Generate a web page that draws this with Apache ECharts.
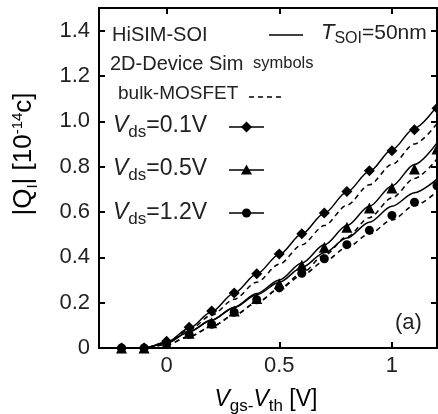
<!DOCTYPE html>
<html>
<head>
<meta charset="utf-8">
<script src="https://cdn.jsdelivr.net/npm/echarts@6/dist/echarts.min.js"></script>
<style>
  html, body { margin: 0; padding: 0; background: #fff; }
  #chart { width: 438px; height: 414px; }
</style>
</head>
<body>
<div id="chart"></div>
<script>
// Vgs - Vth sample points [V]
const vgs = [-0.2, -0.1, 0, 0.1, 0.2, 0.3, 0.4, 0.5, 0.6, 0.7, 0.8, 0.9, 1.0, 1.1, 1.2]

// 2D device simulation (symbols), |Q| in 1e-14 C
const sim01 = [0, 0, 0.03, 0.092, 0.163, 0.243, 0.328, 0.415, 0.504, 0.596, 0.69, 0.782, 0.87, 0.963, 1.058]
const sim05 = [0, 0, 0.02, 0.065, 0.111, 0.163, 0.218, 0.283, 0.365, 0.445, 0.533, 0.618, 0.706, 0.79, 0.878]
const sim12 = [0, 0, 0.02, 0.06, 0.105, 0.158, 0.213, 0.265, 0.33, 0.394, 0.456, 0.519, 0.585, 0.643, 0.716]

// HiSIM-SOI (solid)
const hisim01 = [0, 0, 0.025, 0.087, 0.16, 0.243, 0.327, 0.413, 0.503, 0.595, 0.688, 0.78, 0.875, 0.97, 1.068]
const hisim05 = [0, 0, 0.022, 0.072, 0.123, 0.18, 0.24, 0.3, 0.375, 0.455, 0.54, 0.625, 0.715, 0.81, 0.905]
const hisim12 = [0, 0, 0.022, 0.072, 0.123, 0.178, 0.235, 0.29, 0.355, 0.42, 0.485, 0.555, 0.625, 0.685, 0.745]

// bulk-MOSFET (dashed)
const bulk01 = [0, 0, 0.025, 0.08, 0.145, 0.215, 0.29, 0.37, 0.455, 0.54, 0.63, 0.72, 0.81, 0.9, 0.99]
const bulk05 = [0, 0, 0.015, 0.05, 0.095, 0.145, 0.2, 0.262, 0.33, 0.41, 0.49, 0.575, 0.662, 0.748, 0.834]
const bulk12 = [0, 0, 0.015, 0.05, 0.095, 0.145, 0.2, 0.26, 0.32, 0.382, 0.443, 0.504, 0.565, 0.628, 0.69]

const xTicks = [0, 0.5, 1]
const yTicks = [0, 0.2, 0.4, 0.6, 0.8, 1.0, 1.2, 1.4]

const FONT = '"Liberation Sans", Arial, sans-serif'
const INK = '#222'

const pairs = (ys) => vgs.map((x, i) => [x, ys[i]])

const curve = (ys, dashed) => ({
  type: 'line',
  data: pairs(ys),
  smooth: 0.3,
  smoothMonotone: 'x',
  showSymbol: false,
  silent: true,
  lineStyle: { color: '#000', width: 1.5, type: dashed ? [5, 4] : 'solid' }
})

const marks = (ys, symbol, size) => ({
  type: 'scatter',
  data: pairs(ys),
  symbol: symbol,
  symbolSize: size,
  clip: false,
  silent: true,
  itemStyle: { color: '#000', opacity: 1 }
})

const frameX = (pos, labels) => ({
  type: 'value',
  position: pos,
  min: -0.3,
  max: 1.2,
  axisLine: { onZero: false, lineStyle: { color: '#000', width: 2 } },
  axisTick: { show: true, inside: true, length: 6, customValues: xTicks, lineStyle: { color: '#000', width: 2 } },
  axisLabel: {
    show: labels,
    customValues: xTicks,
    margin: 7,
    fontSize: 22,
    fontFamily: FONT,
    color: INK,
    formatter: (v) => String(v)
  },
  splitLine: { show: false }
})

const frameY = (pos, labels) => ({
  type: 'value',
  position: pos,
  min: 0,
  max: 1.5,
  axisLine: { onZero: false, lineStyle: { color: '#000', width: 2 } },
  axisTick: { show: true, inside: true, length: 6, customValues: yTicks, lineStyle: { color: '#000', width: 2 } },
  axisLabel: {
    show: labels,
    customValues: yTicks,
    margin: 9,
    fontSize: 22,
    fontFamily: FONT,
    color: INK,
    formatter: (v) => (v === 0 ? '0' : v.toFixed(1))
  },
  splitLine: { show: false }
})

const vdsRich = {
  i: { fontSize: 23, fontStyle: 'italic', fontFamily: FONT, color: INK, lineHeight: 26 },
  s: { fontSize: 17, fontFamily: FONT, color: INK, lineHeight: 17, verticalAlign: 'bottom', padding: [0, 0, -2, 0] },
  n: { fontSize: 23, fontFamily: FONT, color: INK, lineHeight: 26 }
}

const label = (x, y, text, size, rich) => ({
  type: 'text',
  x: x,
  y: y,
  silent: true,
  style: {
    text: text,
    fontSize: size,
    fontFamily: FONT,
    fill: INK,
    verticalAlign: 'middle',
    rich: rich
  }
})

const legendLine = (x1, x2, y, dashed) => ({
  type: 'line',
  silent: true,
  shape: { x1: x1, y1: y, x2: x2, y2: y },
  style: { stroke: '#000', lineWidth: 1.5, lineDash: dashed ? [5, 4] : null }
})

const chart = echarts.init(document.getElementById('chart'))

chart.setOption({
  animation: false,
  grid: { left: 99, right: 1, top: 8, bottom: 66, containLabel: false, outerBoundsMode: 'none' },
  xAxis: [frameX('bottom', true), frameX('top', false)],
  yAxis: [frameY('left', true), frameY('right', false)],
  series: [
    curve(hisim01, false),
    curve(hisim05, false),
    curve(hisim12, false),
    curve(bulk01, true),
    curve(bulk05, true),
    curve(bulk12, true),
    marks(sim01, 'diamond', 11),
    marks(sim05, 'triangle', 11),
    marks(sim12, 'circle', 9)
  ],
  graphic: [
    label(112, 35, 'HiSIM-SOI', 20),
    legendLine(269, 303, 35, false),
    label(321, 33, '{i|T}{s|SOI}{n|=50nm}', 21, {
      i: { fontSize: 22, fontStyle: 'italic', fontFamily: FONT, color: INK, lineHeight: 24 },
      s: { fontSize: 16, fontFamily: FONT, color: INK, lineHeight: 16, verticalAlign: 'bottom', padding: [0, 0, -2, 0] },
      n: { fontSize: 21, fontFamily: FONT, color: INK, lineHeight: 24 }
    }),
    label(110, 64, '2D-Device Sim', 20),
    label(253, 63, 'symbols', 16.5),
    label(118, 94, 'bulk-MOSFET', 19),
    legendLine(249, 284, 97, true),
    label(113, 126, '{i|V}{s|ds}{n|=0.1V}', 23, vdsRich),
    legendLine(229, 264, 127, false),
    { type: 'polygon', silent: true, shape: { points: [[246.5, 121.5], [252, 127], [246.5, 132.5], [241, 127]] }, style: { fill: '#000' } },
    label(113, 169, '{i|V}{s|ds}{n|=0.5V}', 23, vdsRich),
    legendLine(229, 264, 170, false),
    { type: 'polygon', silent: true, shape: { points: [[246.5, 164.5], [252, 174.5], [241, 174.5]] }, style: { fill: '#000' } },
    label(113, 213, '{i|V}{s|ds}{n|=1.2V}', 23, vdsRich),
    legendLine(229, 264, 213, false),
    { type: 'circle', silent: true, shape: { cx: 246.5, cy: 213, r: 4.5 }, style: { fill: '#000' } },
    label(395, 323, '(a)', 22),
    // x axis title
    {
      type: 'text',
      x: 266,
      y: 400,
      silent: true,
      style: {
        text: '{i|V}{s|gs-}{i|V}{s|th}{n| [V]}',
        align: 'center',
        verticalAlign: 'middle',
        rich: {
          i: { fontSize: 23, fontStyle: 'italic', fontFamily: FONT, color: INK, lineHeight: 26 },
          s: { fontSize: 17, fontFamily: FONT, color: INK, lineHeight: 17, verticalAlign: 'bottom', padding: [0, 0, -2, 0] },
          n: { fontSize: 23, fontFamily: FONT, color: INK, lineHeight: 26 }
        }
      }
    },
    // y axis title
    {
      type: 'text',
      x: 24,
      y: 154,
      rotation: Math.PI / 2,
      silent: true,
      style: {
        text: '{n||Q}{s|I}{n|| [10}{p|-14}{n|c]}',
        align: 'center',
        verticalAlign: 'middle',
        rich: {
          n: { fontSize: 26, fontFamily: FONT, color: INK, lineHeight: 28 },
          s: { fontSize: 15, fontFamily: FONT, color: INK, lineHeight: 15, verticalAlign: 'bottom', padding: [0, 0, -2, 0] },
          p: { fontSize: 15, fontFamily: FONT, color: INK, lineHeight: 15, verticalAlign: 'top' }
        }
      }
    }
  ]
})

window.addEventListener('resize', () => chart.resize())
</script>
</body>
</html>
